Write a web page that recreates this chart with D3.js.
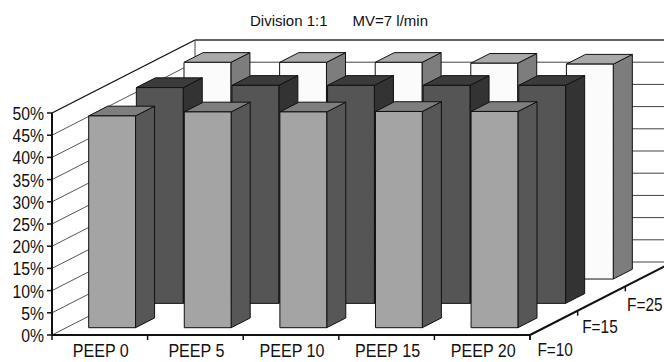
<!DOCTYPE html>
<html>
<head>
<meta charset="utf-8">
<script src="https://cdn.jsdelivr.net/npm/d3@7"></script>
<style>
  body { margin: 0; background: #fff; }
  text { font-family: "Liberation Sans", Arial, sans-serif; fill: #111; }
</style>
</head>
<body>
<div id="wrapper"></div>
<script>
// Data
const categories = ["PEEP 0", "PEEP 5", "PEEP 10", "PEEP 15", "PEEP 20"];
const seriesNames = ["F=10", "F=15", "F=25"];
const f10 = [47.7, 48.6, 48.6, 48.7, 48.7];
const f15 = [48.6, 49.1, 49.1, 49.1, 49.1];
const f25 = [48.8, 48.8, 48.8, 48.6, 48.4];
const yTicks = [0, 5, 10, 15, 20, 25, 30, 35, 40, 45, 50];
const titleText = "Division 1:1      MV=7 l/min";

const seriesValues = [f10, f15, f25];
const seriesColors = [
  { face: "#a4a4a4", top: "#7e7e7e", side: "#575757" },
  { face: "#555555", top: "#3b3b3b", side: "#333333" },
  { face: "#fbfbfb", top: "#a9a9a9", side: "#7d7d7d" },
];

function drawChart() {
  const width = 664;
  const height = 362;
  const plot = { left: 52, right: 530, bottom: 335, top: 113 };
  const depth = { dx: 143, dy: 73 };

  const svg = d3.select("#wrapper")
    .append("svg")
      .attr("width", width)
      .attr("height", height);

  // Scales
  const xScale = d3.scaleBand()
    .domain(categories)
    .range([plot.left, plot.right]);

  const yScale = d3.scaleLinear()
    .domain([0, 50])
    .range([plot.bottom, plot.top]);

  const zScale = d3.scaleBand()
    .domain(seriesNames)
    .range([0, 1]);

  // project a point (x on front plane, value, depth fraction) to screen
  const P = (x, v, d) => [x + d * depth.dx, yScale(v) - d * depth.dy];
  const pts = arr => arr.map(p => p.join(",")).join(" ");

  // Walls and gridlines
  const walls = svg.append("g");
  const xBackL = plot.left + depth.dx;
  const xBackR = plot.right + depth.dx;

  yTicks.forEach(t => {
    const a = P(plot.left, t, 0);
    const b = P(plot.left, t, 1);
    walls.append("line")
      .attr("x1", a[0]).attr("y1", a[1])
      .attr("x2", b[0]).attr("y2", b[1])
      .attr("stroke", t === 50 ? "#111" : "#555")
      .attr("stroke-width", t === 50 ? 1.4 : 1);
    walls.append("line")
      .attr("x1", b[0]).attr("y1", b[1])
      .attr("x2", xBackR).attr("y2", b[1])
      .attr("stroke", t === 50 ? "#333" : "#444")
      .attr("stroke-width", t === 50 ? 1.4 : 1);
  });
  walls.append("line")
    .attr("x1", xBackL).attr("y1", yScale(50) - depth.dy)
    .attr("x2", xBackL).attr("y2", yScale(0) - depth.dy)
    .attr("stroke", "#444");

  // Bars, back row first
  const barFrac = 0.49;
  const bars = svg.append("g");
  for (let s = seriesNames.length - 1; s >= 0; s--) {
    const d0 = zScale(seriesNames[s]) + zScale.bandwidth() * 0.3;
    const d1 = d0 + zScale.bandwidth() * 0.4;
    const col = seriesColors[s];
    categories.forEach((c, i) => {
      const v = seriesValues[s][i];
      const bw = xScale.bandwidth() * barFrac;
      const x0 = xScale(c) + (xScale.bandwidth() - bw) / 2 - 2;
      const x1 = x0 + bw;
      const g = bars.append("g")
        .attr("stroke", "#111")
        .attr("stroke-width", 1)
        .attr("stroke-linejoin", "round");
      g.append("polygon")
        .attr("points", pts([P(x1, 0, d0), P(x1, 0, d1), P(x1, v, d1), P(x1, v, d0)]))
        .attr("fill", col.side);
      g.append("polygon")
        .attr("points", pts([P(x0, v, d0), P(x1, v, d0), P(x1, v, d1), P(x0, v, d1)]))
        .attr("fill", col.top);
      g.append("polygon")
        .attr("points", pts([P(x0, 0, d0), P(x1, 0, d0), P(x1, v, d0), P(x0, v, d0)]))
        .attr("fill", col.face);
    });
  }

  // Axes
  const axes = svg.append("g").attr("stroke", "#111");
  axes.append("line")
    .attr("x1", plot.left).attr("y1", yScale(0))
    .attr("x2", plot.left).attr("y2", yScale(50))
    .attr("stroke-width", 2);
  axes.append("line")
    .attr("x1", plot.left).attr("y1", yScale(0))
    .attr("x2", plot.right).attr("y2", yScale(0))
    .attr("stroke-width", 2);
  const fr0 = P(plot.right, 0, 0);
  const fr1 = P(plot.right, 0, 1);
  axes.append("line")
    .attr("x1", fr0[0]).attr("y1", fr0[1])
    .attr("x2", fr1[0]).attr("y2", fr1[1])
    .attr("stroke-width", 2);

  yTicks.forEach(t => {
    axes.append("line")
      .attr("x1", plot.left - 5).attr("x2", plot.left)
      .attr("y1", yScale(t)).attr("y2", yScale(t))
      .attr("stroke-width", 1.5);
  });
  categories.concat([null]).forEach(c => {
    const x = c ? xScale(c) : plot.right;
    axes.append("line")
      .attr("x1", x).attr("x2", x)
      .attr("y1", yScale(0)).attr("y2", yScale(0) + 5)
      .attr("stroke-width", 1.5);
  });
  [0, 1, 2].forEach(k => {
    const p = P(plot.right, 0, k / 3);
    axes.append("line")
      .attr("x1", p[0]).attr("x2", p[0])
      .attr("y1", p[1]).attr("y2", p[1] + 5)
      .attr("stroke-width", 1.5);
  });

  // Labels
  const labels = svg.append("g")
    .style("font-size", "17.5px");

  yTicks.forEach(t => {
    labels.append("text")
      .attr("text-anchor", "end")
      .attr("transform", `translate(44,${yScale(t) + 7}) scale(0.9,1)`)
      .text(t + "%");
  });

  categories.forEach(c => {
    labels.append("text")
      .attr("text-anchor", "middle")
      .attr("transform", `translate(${xScale(c) + xScale.bandwidth() / 2 + 1},357) scale(0.92,1)`)
      .text(c);
  });

  // depth labels sit along a slightly shortened copy of the floor edge
  seriesNames.forEach(s => {
    const f = zScale(s) + zScale.bandwidth() / 2;
    const lx = plot.right + f * depth.dx * 0.94 - 15;
    const ly = yScale(0) - f * depth.dy * 0.92 + 32;
    labels.append("text")
      .attr("text-anchor", "start")
      .attr("transform", `translate(${lx},${ly}) scale(0.88,1)`)
      .text(s);
  });

  svg.append("text")
    .attr("x", 250)
    .attr("y", 26)
    .style("font-size", "15px")
    .style("white-space", "pre")
    .text(titleText);
}
drawChart();
</script>
</body>
</html>
